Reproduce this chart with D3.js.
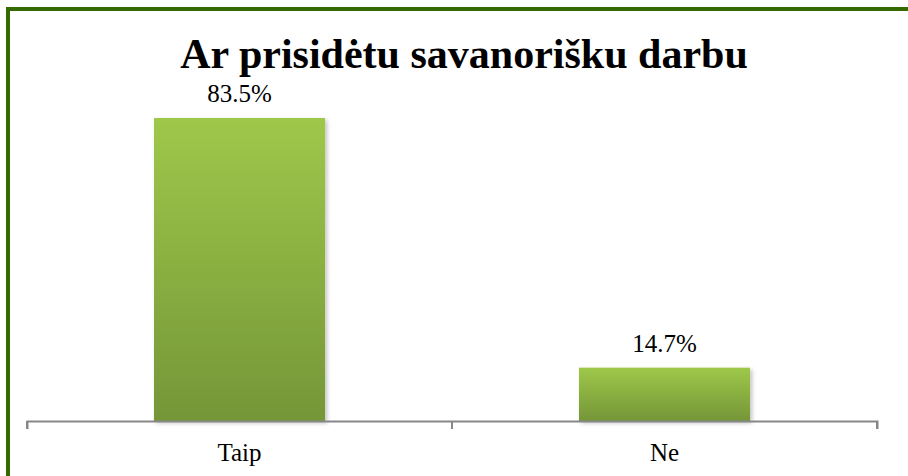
<!DOCTYPE html>
<html>
<head>
<meta charset="utf-8">
<script src="https://cdn.jsdelivr.net/npm/d3@7"></script>
<style>
  html, body { margin: 0; padding: 0; background: #fff; }
  svg { display: block; }
</style>
</head>
<body>
<svg id="chart" width="908" height="476"></svg>
<script>
const title = "Ar prisidėtu savanorišku darbu";
const categories = ["Taip", "Ne"];
const values = [83.5, 14.7];
const valueLabels = ["83.5%", "14.7%"];

const W = 908, H = 476;
const svg = d3.select("#chart");
const font = "'Liberation Serif', 'Times New Roman', serif";

const defs = svg.append("defs");
const grad = defs.append("linearGradient").attr("id", "barGrad")
  .attr("x1", 0).attr("y1", 0).attr("x2", 0).attr("y2", 1);
grad.append("stop").attr("offset", "0%").attr("stop-color", "#9ec84a");
grad.append("stop").attr("offset", "100%").attr("stop-color", "#759638");

const shadow = defs.append("filter").attr("id", "shadow")
  .attr("x", "-10%").attr("y", "-10%").attr("width", "130%").attr("height", "130%");
shadow.append("feDropShadow").attr("dx", 2).attr("dy", 2).attr("stdDeviation", 2)
  .attr("flood-color", "#000").attr("flood-opacity", 0.25);

// frame border
svg.append("rect").attr("x", 8).attr("y", 9).attr("width", 1200).attr("height", 1200)
  .attr("fill", "none").attr("stroke", "#356a00").attr("stroke-width", 4);

const x = d3.scaleBand().domain(categories).range([27, 877]).padding(0);
const y = d3.scaleLinear().domain([0, 90]).range([421, 94.4]);
const barFrac = 0.4024;
const bw = x.bandwidth() * barFrac;

// bars
svg.append("g").selectAll("rect").data(values).join("rect")
  .attr("x", (d, i) => x(categories[i]) + (x.bandwidth() - bw) / 2)
  .attr("y", d => y(d))
  .attr("width", bw)
  .attr("height", d => y(0) - y(d))
  .attr("fill", "url(#barGrad)")
  .attr("filter", "url(#shadow)");

// axis
const axis = d3.axisBottom(x).tickSize(8).tickSizeOuter(8).tickFormat("");
const gAx = svg.append("g").attr("transform", `translate(0,${y(0)})`).call(axis);
gAx.select(".domain").attr("stroke", "#878787").attr("stroke-width", 2);
gAx.selectAll(".tick").remove();
// boundary ticks between categories
const boundaries = [27, 27 + x.step(), 877];
gAx.selectAll("line.b").data(boundaries).join("line").attr("class", "b")
  .attr("x1", d => d).attr("x2", d => d).attr("y1", 0).attr("y2", 8)
  .attr("stroke", "#878787").attr("stroke-width", 2);

// category labels
svg.append("g").selectAll("text").data(categories).join("text")
  .attr("x", d => x(d) + x.bandwidth() / 2)
  .attr("y", 461)
  .attr("text-anchor", "middle")
  .attr("font-family", font).attr("font-size", 25).attr("fill", "#000")
  .text(d => d);

// value labels
svg.append("g").selectAll("text").data(values).join("text")
  .attr("x", (d, i) => x(categories[i]) + x.bandwidth() / 2)
  .attr("y", d => y(d) - 16)
  .attr("text-anchor", "middle")
  .attr("font-family", font).attr("font-size", 25).attr("fill", "#000")
  .text((d, i) => valueLabels[i]);

// title
svg.append("text").attr("x", 464).attr("y", 68)
  .attr("text-anchor", "middle")
  .attr("font-family", font).attr("font-size", 42).attr("font-weight", "bold")
  .attr("fill", "#000").text(title);
</script>
</body>
</html>
